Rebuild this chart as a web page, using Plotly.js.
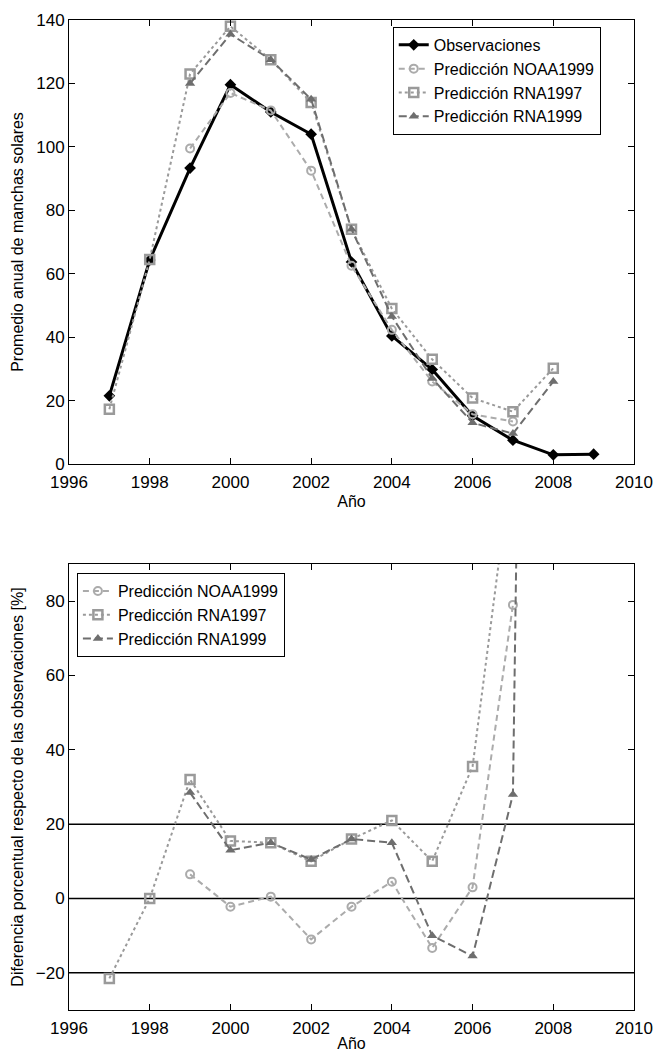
<!DOCTYPE html>
<html>
<head>
<meta charset="utf-8">
<script src="https://cdn.plot.ly/plotly-3.0.1.min.js"></script>
<style>html,body{margin:0;padding:0;background:#fff;}#chart{width:653px;height:1052px;}</style>
</head>
<body>
<div id="chart"></div>
<script>
// ---- Data ----
var yearsObs = [1997, 1998, 1999, 2000, 2001, 2002, 2003, 2004, 2005, 2006, 2007, 2008, 2009];
var observaciones = [21.5, 64.3, 93.3, 119.6, 111.0, 104.0, 63.7, 40.4, 29.8, 15.2, 7.5, 2.9, 3.1];

var yearsNOAA = [1999, 2000, 2001, 2002, 2003, 2004, 2005, 2006, 2007];
var noaa1999 = [99.5, 117, 111.5, 92.5, 62.5, 42.3, 26, 15.7, 13.4];

var yearsRNA97 = [1997, 1998, 1999, 2000, 2001, 2002, 2003, 2004, 2005, 2006, 2007, 2008];
var rna1997 = [17.3, 64.5, 123, 138, 127.5, 114, 74, 49, 33, 20.8, 16.5, 30.2];

var yearsRNA99 = [1999, 2000, 2001, 2002, 2003, 2004, 2005, 2006, 2007, 2008];
var rna1999 = [120, 135.5, 127.5, 115, 74, 46.5, 27, 13, 9.6, 26];

// percentage differences (bottom panel)
var difNOAA1999 = [6.5, -2.2, 0.5, -11, -2.2, 4.5, -13.3, 3, 79];
var difRNA1997 = [-21.5, 0, 32, 15.5, 15, 10, 16, 21, 10, 35.5, 120, 940];
var difRNA1999 = [28.5, 13, 15, 10.5, 16, 15, -10, -15.5, 28, 800];

var refLevels = [-20, 0, 20];

var xTickVals = [1996, 1998, 2000, 2002, 2004, 2006, 2008, 2010];
var yTopTicks = [0, 20, 40, 60, 80, 100, 120, 140];
var yBotTicks = [-20, 0, 20, 40, 60, 80];

// ---- Styles ----
var cNOAA = '#ababab', cR97 = '#9a9a9a', cR99 = '#6e6e6e';
var tickFont = {family: '"Liberation Sans Narrow", "Arial Narrow", sans-serif', size: 17, color: '#000'};
var titleFont = {family: '"Liberation Sans", Arial, sans-serif', size: 16, color: '#000'};
var legFont = {family: '"Liberation Sans", Arial, sans-serif', size: 16, color: '#000'};

var styleNOAA = {line: {color: cNOAA, width: 2, dash: '6px,4px'},
  marker: {symbol: 'circle-open', size: 8, color: cNOAA, line: {width: 2, color: cNOAA}}};
var styleR97 = {line: {color: cR97, width: 2, dash: 'dot'},
  marker: {symbol: 'square-open', size: 9, color: cR97, line: {width: 2.5, color: cR97}}};
var styleR99 = {line: {color: cR99, width: 2, dash: '8px,4px'},
  marker: {symbol: 'triangle-up', size: 9, color: cR99}};

function tr(x, y, xa, ya, name, leg, st) {
  return {x: x, y: y, xaxis: xa, yaxis: ya, mode: 'lines+markers', name: name, legend: leg,
          line: st.line, marker: st.marker};
}

var traces = [
  {x: yearsObs, y: observaciones, xaxis: 'x', yaxis: 'y', mode: 'lines+markers', name: 'Observaciones', legend: 'legend',
   line: {color: '#000', width: 3}, marker: {symbol: 'diamond', size: 9, color: '#000'}},
  tr(yearsNOAA, noaa1999, 'x', 'y', 'Predicción NOAA1999', 'legend', styleNOAA),
  tr(yearsRNA97, rna1997, 'x', 'y', 'Predicción RNA1997', 'legend', styleR97),
  tr(yearsRNA99, rna1999, 'x', 'y', 'Predicción RNA1999', 'legend', styleR99),
  tr(yearsNOAA, difNOAA1999, 'x2', 'y2', 'Predicción NOAA1999', 'legend2', styleNOAA),
  tr(yearsRNA97, difRNA1997, 'x2', 'y2', 'Predicción RNA1997', 'legend2', styleR97),
  tr(yearsRNA99, difRNA1999, 'x2', 'y2', 'Predicción RNA1999', 'legend2', styleR99)
];

var shapes = refLevels.map(function (v) {
  return {type: 'line', xref: 'x2 domain', yref: 'y2', x0: 0, x1: 1, y0: v, y1: v,
          line: {color: '#000', width: 1.5}, layer: 'below'};
});

function xAxis(anchor) {
  return {anchor: anchor, domain: [0, 1], range: [1996, 2010], tickmode: 'array', tickvals: xTickVals,
    ticks: 'inside', ticklen: 6, tickcolor: '#000', showline: true, linecolor: '#000', linewidth: 1,
    mirror: 'ticks', showgrid: false, zeroline: false, tickfont: tickFont, ticklabeloverflow: 'allow',
    ticklabelstandoff: 3,
    title: {text: 'Año', font: titleFont, standoff: 4}};
}
function yAxis(anchor, range, ticks, title, domain) {
  return {anchor: anchor, domain: domain, range: range, tickmode: 'array', tickvals: ticks,
    ticks: 'inside', ticklen: 6, tickcolor: '#000', showline: true, linecolor: '#000', linewidth: 1,
    mirror: 'ticks', showgrid: false, zeroline: false, tickfont: tickFont, ticklabeloverflow: 'allow',
    title: {text: title, font: titleFont, standoff: 8}};
}

var layout = {
  width: 653, height: 1052,
  margin: {l: 69, r: 19, t: 20, b: 42},
  paper_bgcolor: '#fff', plot_bgcolor: '#fff',
  showlegend: true,
  xaxis: xAxis('y'),
  yaxis: yAxis('x', [0, 140], yTopTicks, 'Promedio anual de manchas solares', [0.5515, 1]),
  xaxis2: xAxis('y2'),
  yaxis2: yAxis('x2', [-30, 90], yBotTicks, 'Diferencia porcentual respecto de las observaciones [%]', [0, 0.4505]),
  legend: {x: 0.573, y: 0.993, xanchor: 'left', yanchor: 'top', bgcolor: '#fff',
    bordercolor: '#000', borderwidth: 1, font: legFont, tracegroupgap: 0, itemwidth: 30},
  legend2: {x: 0.014, y: 0.4414, xanchor: 'left', yanchor: 'top', bgcolor: '#fff',
    bordercolor: '#000', borderwidth: 1, font: legFont, tracegroupgap: 0, itemwidth: 30},
  shapes: shapes
};

Plotly.newPlot('chart', traces, layout, {displayModeBar: false, staticPlot: true});
</script>
</body>
</html>
